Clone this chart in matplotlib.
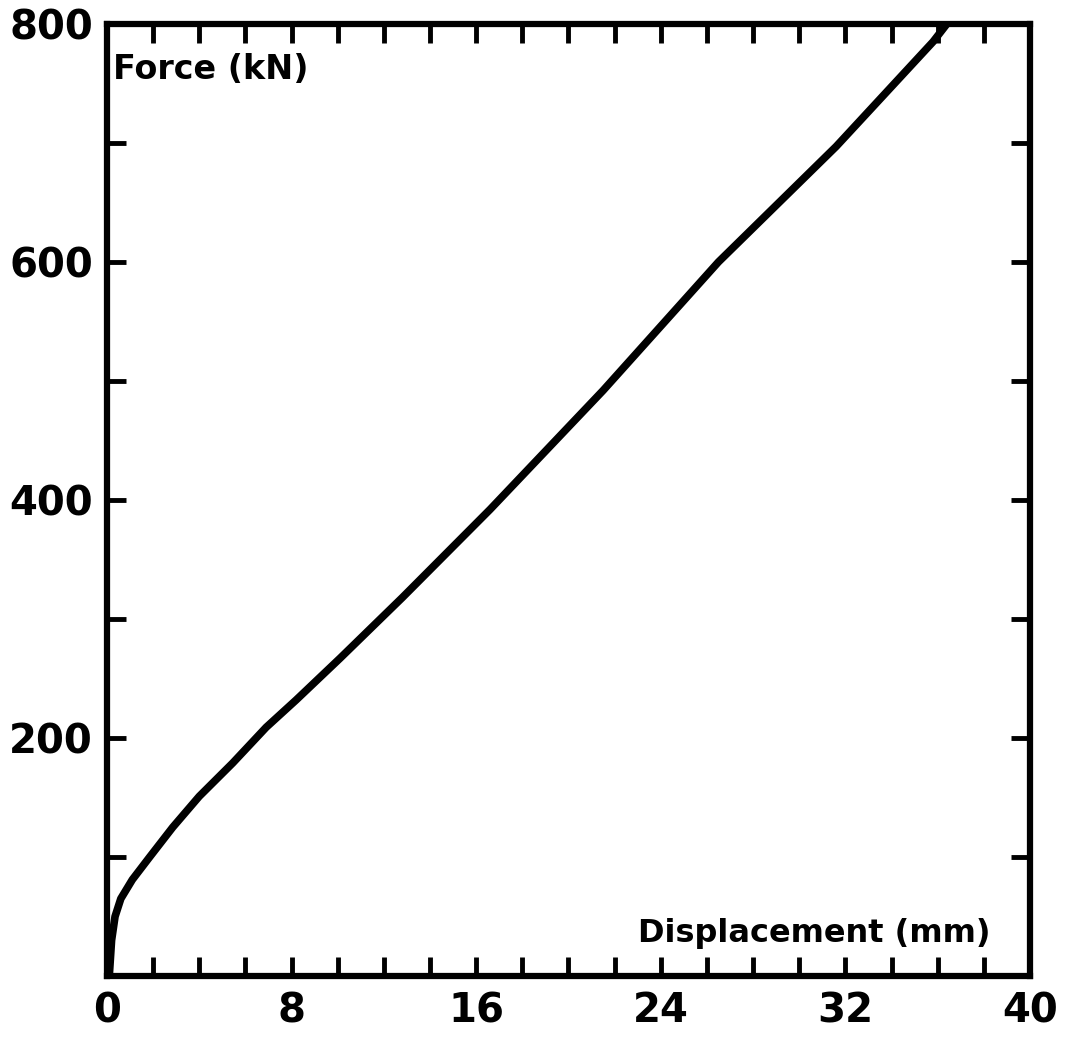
import matplotlib
matplotlib.use("Agg")
import matplotlib.pyplot as plt
import matplotlib.ticker as ticker

# force-displacement curve
displacement = [0.1, 0.2, 0.35, 0.6, 1.1, 1.85, 2.85, 4.0, 5.45, 6.9, 8.2,
                10.1, 12.8, 16.6, 21.5, 26.5, 31.6, 35.8, 36.4]
force = [0, 30, 50, 65, 81, 100, 125, 151, 179, 209, 232,
         267, 318, 392, 492, 600, 697, 785, 800]

x_ticks = list(range(0, 41, 2))
x_labels = [0, 8, 16, 24, 32, 40]
y_ticks = list(range(0, 801, 100))
y_labels = [200, 400, 600, 800]

plt.rcParams['font.family'] = ['DejaVu Sans']
plt.rcParams['font.weight'] = 'bold'

fig = plt.figure(figsize=(10.74, 10.40), dpi=100)
ax = fig.add_axes([0.0996, 0.0615, 0.8594, 0.9155])

ax.plot(displacement, force, color='black', lw=5.5, solid_capstyle='round',
        solid_joinstyle='round')

ax.set_xlim(0, 40)
ax.set_ylim(0, 800)

ax.xaxis.set_major_locator(ticker.FixedLocator(x_ticks))
ax.yaxis.set_major_locator(ticker.FixedLocator(y_ticks))
ax.xaxis.set_major_formatter(ticker.FuncFormatter(
    lambda v, p: str(int(v)) if int(v) in x_labels else ''))
ax.yaxis.set_major_formatter(ticker.FuncFormatter(
    lambda v, p: str(int(v)) if int(v) in y_labels else ''))

ax.tick_params(axis='both', direction='in', length=14, width=3.5,
               labelsize=29, top=True, right=True, color='black')
ax.tick_params(axis='x', pad=11)
ax.tick_params(axis='y', pad=10)
for lab in ax.get_xticklabels() + ax.get_yticklabels():
    lab.set_fontweight('bold')

for sp in ax.spines.values():
    sp.set_linewidth(4.5)

ax.text(0.007, 0.952, 'Force (kN)', transform=ax.transAxes, fontsize=24,
        fontweight='bold', ha='left', va='center')
ax.text(0.957, 0.045, 'Displacement (mm)', transform=ax.transAxes,
        fontsize=23, fontweight='bold', ha='right', va='center')

fig.savefig('out.png', dpi=100)
